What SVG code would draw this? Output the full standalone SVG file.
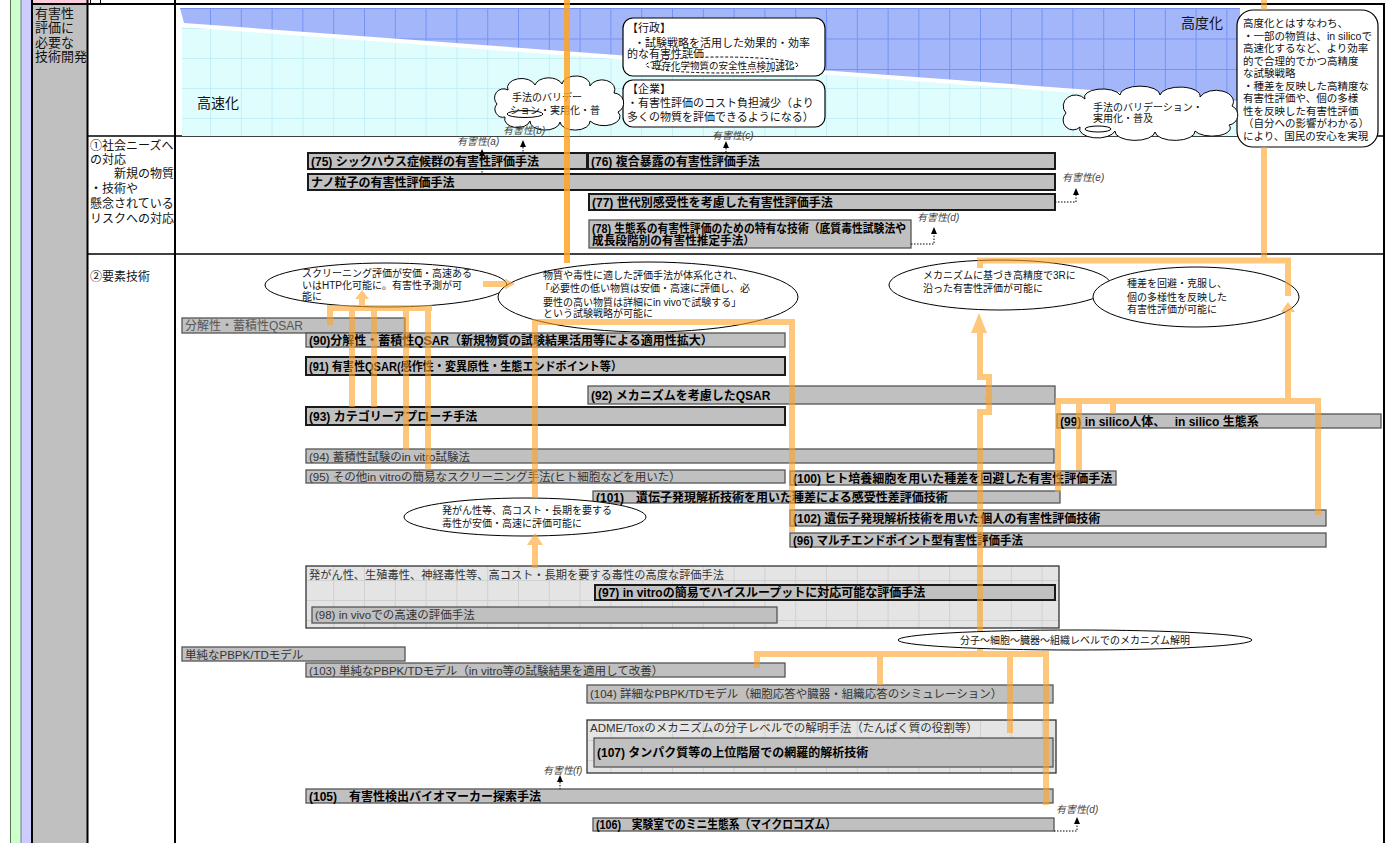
<svg xmlns="http://www.w3.org/2000/svg" width="1399" height="843" viewBox="0 0 1399 843">
<defs>
<style>
text{font-family:"Liberation Sans","Noto Sans CJK JP",sans-serif;}
.b{font-size:12px;font-weight:bold;fill:#000}
.n{font-size:11.5px;fill:#333}
.s{font-size:10px;fill:#111}
.m{font-size:11px;fill:#111}
.h{font-size:10px;font-style:italic;fill:#444}
.bx{fill:#c0c0c0;stroke:#1a1a1a;stroke-width:2}
.bl{fill:#c0c0c0;stroke:#555;stroke-width:1.3}
.gp{fill:url(#pg);stroke:#333;stroke-width:1.3}
.el{fill:#fff;stroke:#000;stroke-width:1}
.o{fill:none;stroke:#ffa326;stroke-width:6}
.oh{fill:#ffa326}
.dt{fill:none;stroke:#000;stroke-width:1;stroke-dasharray:1.5 1.5}
.ah{fill:#000}
</style>
<pattern id="pb" x="179.2" y="8" width="30.8" height="30.5" patternUnits="userSpaceOnUse"><rect width="30.8" height="30.5" fill="#a4b6fa"/><path d="M0.5,0 V30.5 M0,0.5 H30.8" stroke="#7393f4" stroke-width="1"/></pattern>
<pattern id="pc" x="179.2" y="-2" width="30.8" height="30" patternUnits="userSpaceOnUse"><rect width="30.8" height="30" fill="#e0fdfe"/><path d="M0.5,0 V30 M0,0.5 H30.8" stroke="#c4eff6" stroke-width="1"/></pattern>
<pattern id="pg" x="179.2" y="0" width="30.8" height="20" patternUnits="userSpaceOnUse"><rect width="30.8" height="20" fill="#e4e4e4"/><path d="M0.5,0 V20 M0,0.5 H30.8" stroke="#d0d0d0" stroke-width="1"/></pattern>
</defs>
<rect width="1399" height="843" fill="#fff"/>

<g id="frame">
<rect x="10" y="0" width="11" height="843" fill="#ccffcc"/>
<rect x="21" y="0" width="11" height="843" fill="#ccccff"/>
<rect x="33" y="0" width="54" height="4" fill="#ffccdd"/>
<rect x="33" y="5" width="54" height="838" fill="#c0c0c0"/>
<line x1="10.5" y1="0" x2="10.5" y2="843" stroke="#557755" stroke-width="1"/>
<line x1="21" y1="0" x2="21" y2="843" stroke="#777799" stroke-width="1"/>
<line x1="32" y1="0" x2="32" y2="843" stroke="#000" stroke-width="2"/>
<line x1="87.5" y1="0" x2="87.5" y2="843" stroke="#000" stroke-width="2"/>
<line x1="175" y1="0" x2="175" y2="843" stroke="#000" stroke-width="2"/>
<line x1="1384" y1="4" x2="1384" y2="843" stroke="#000" stroke-width="2"/>
<line x1="90.5" y1="0" x2="90.5" y2="4" stroke="#000" stroke-width="1"/>
<line x1="100.5" y1="0" x2="100.5" y2="4" stroke="#000" stroke-width="1"/>
<line x1="31" y1="4" x2="1385" y2="4" stroke="#000" stroke-width="2"/>
<line x1="88" y1="136" x2="1384" y2="136" stroke="#000" stroke-width="1.3"/>
<line x1="88" y1="254" x2="1384" y2="254" stroke="#000" stroke-width="1.3"/>
<text x="35" y="18" font-size="13" fill="#111">有害性</text>
<text x="35" y="32" font-size="13" fill="#111">評価に</text>
<text x="35" y="46.5" font-size="13" fill="#111">必要な</text>
<text x="35" y="61" font-size="13" fill="#111">技術開発</text>
<text x="90" y="150" font-size="12" fill="#111">①社会ニーズへ</text>
<text x="90" y="163.5" font-size="12" fill="#111">の対応</text>
<text x="90" y="178" font-size="12" fill="#111">　　新規の物質</text>
<text x="90" y="193" font-size="12" fill="#111">・技術や</text>
<text x="90" y="207.5" font-size="12" fill="#111">懸念されている</text>
<text x="90" y="222.5" font-size="12" fill="#111">リスクへの対応</text>
<text x="90" y="281" font-size="12" fill="#111">②要素技術</text>
</g>

<g id="band">
<polygon points="180,8 1240,8 1240,101 184,23" fill="url(#pb)"/>
<polygon points="182,27 1240,105 1240,136 182,136" fill="url(#pc)"/>
<text x="197" y="108" font-size="14" fill="#111">高速化</text>
<text x="1181" y="28" font-size="14" fill="#111">高度化</text>
</g>

<g id="gyosei">
<rect x="623" y="18" width="202" height="58" rx="10" fill="#fff" stroke="#000" stroke-width="1.2"/>
<text class="m" x="627" y="32">【行政】</text>
<text class="m" x="634" y="46.5">・試験戦略を活用した効果的・効率</text>
<text class="m" x="627" y="58">的な有害性評価</text>
<ellipse cx="722" cy="65" rx="76" ry="8" fill="#fff" stroke="#000" stroke-width="1" stroke-dasharray="3 2"/>
<text x="652" y="69" font-size="9.5" fill="#111">既存化学物質の安全性点検加速化</text>
</g>
<g id="kigyo">
<rect x="623" y="80" width="202" height="47" rx="10" fill="#fff" stroke="#000" stroke-width="1.2"/>
<text class="m" x="627" y="93">【企業】</text>
<text class="m" x="627" y="107">・有害性評価のコスト負担減少（より</text>
<text class="m" x="627" y="121">多くの物質を評価できるようになる）</text>
</g>
<g id="koudoka">
<rect x="1237" y="10" width="141" height="137" rx="16" fill="#fff" stroke="#000" stroke-width="1.2"/>
<text x="1243" y="27" font-size="10.5" fill="#111">高度化とはすなわち、</text>
<text x="1243" y="39.5" font-size="10.5" fill="#111">・一部の物質は、in silicoで</text>
<text x="1243" y="52" font-size="10.5" fill="#111">高速化するなど、より効率</text>
<text x="1243" y="64.5" font-size="10.5" fill="#111">的で合理的でかつ高精度</text>
<text x="1243" y="77" font-size="10.5" fill="#111">な試験戦略</text>
<text x="1243" y="89.5" font-size="10.5" fill="#111">・種差を反映した高精度な</text>
<text x="1243" y="102" font-size="10.5" fill="#111">有害性評価や、個の多様</text>
<text x="1243" y="114.5" font-size="10.5" fill="#111">性を反映した有害性評価</text>
<text x="1243" y="127" font-size="10.5" fill="#111">（自分への影響がわかる）</text>
<text x="1243" y="139.5" font-size="10.5" fill="#111">により、国民の安心を実現</text>
</g>
<g id="cloud1">
<path class="el" d="M497,104 A9,9 0 0 1 508,90 A14,9 0 0 1 535,85 A14,9 0 0 1 562,84 A14,9 0 0 1 590,86 A12,9 0 0 1 614,93 A10,10 0 0 1 618,112 A14,8 0 0 1 590,121 A14,8 0 0 1 560,122 A14,8 0 0 1 530,121 A12,8 0 0 1 505,117 A8,8 0 0 1 497,104 Z"/>
<ellipse class="el" cx="525" cy="114" rx="18" ry="3.5"/>
<text class="s" x="512" y="101">手法のバリデー</text>
<text class="s" x="510" y="114">ション・実用化・普</text>
</g>
<g id="cloud2">
<path class="el" d="M1066,113 A10,9 0 0 1 1085,99 A18,8 0 0 1 1120,95 A18,8 0 0 1 1160,95 A18,8 0 0 1 1200,97 A14,9 0 0 1 1232,106 A10,10 0 0 1 1229,125 A18,8 0 0 1 1195,131 A18,8 0 0 1 1155,132 A18,8 0 0 1 1115,131 A16,8 0 0 1 1080,127 A8,8 0 0 1 1066,113 Z"/>
<ellipse class="el" cx="1098" cy="129" rx="13" ry="3"/>
<text class="s" x="1093" y="111">手法のバリデーション・</text>
<text class="s" x="1093" y="122">実用化・普及</text>
</g>

<g id="n75"><rect class="bx" x="308" y="153" width="279" height="16"/><text class="b" x="311" y="165.5">(75) シックハウス症候群の有害性評価手法</text></g>
<g id="n76"><rect class="bx" x="588" y="153" width="467" height="16"/><text class="b" x="591" y="165.5">(76) 複合暴露の有害性評価手法</text></g>
<g id="nano"><rect class="bx" x="308" y="174" width="747" height="16"/><text class="b" x="311" y="186.5">ナノ粒子の有害性評価手法</text></g>
<g id="n77"><rect class="bx" x="589" y="194" width="466" height="16"/><text class="b" x="592" y="206.5">(77) 世代別感受性を考慮した有害性評価手法</text></g>
<g id="n78"><rect class="bl" x="589" y="220" width="322" height="28"/><text class="b" x="592" y="232.5" textLength="314" lengthAdjust="spacingAndGlyphs">(78) 生態系の有害性評価のための特有な技術（底質毒性試験法や</text><text class="b" x="592" y="245" textLength="163" lengthAdjust="spacingAndGlyphs">成長段階別の有害性推定手法）</text></g>

<g id="e1"><ellipse class="el" cx="386" cy="285" rx="121" ry="22"/><text class="s" x="302" y="277">スクリーニング評価が安価・高速ある</text><text class="s" x="302" y="288.5">いはHTP化可能に。有害性予測が可</text><text class="s" x="302" y="300">能に</text></g>
<g id="e2"><ellipse class="el" cx="648" cy="297" rx="150" ry="35"/><text class="s" x="543" y="279">物質や毒性に適した評価手法が体系化され、</text><text class="s" x="540" y="292">「必要性の低い物質は安価・高速に評価し、必</text><text class="s" x="543" y="305.5">要性の高い物質は詳細にin vivoで試験する」</text><text class="s" x="543" y="317">という試験戦略が可能に</text></g>
<g id="e3"><ellipse class="el" cx="1000" cy="285" rx="111" ry="25"/><text class="s" x="923" y="279">メカニズムに基づき高精度で3Rに</text><text class="s" x="923" y="292">沿った有害性評価が可能に</text></g>
<g id="e4"><ellipse class="el" cx="1196" cy="297" rx="103" ry="30"/><text class="s" x="1127" y="287">種差を回避・克服し、</text><text class="s" x="1127" y="300.5">個の多様性を反映した</text><text class="s" x="1127" y="313">有害性評価が可能に</text></g>

<g id="qsar"><rect class="bl" x="182" y="318" width="223" height="15"/><text x="185" y="330" font-size="12" fill="#555">分解性・蓄積性QSAR</text></g>
<g id="n90"><rect class="bl" x="306" y="333" width="479" height="14"/><text class="b" x="309" y="344.5">(90)分解性・蓄積性QSAR（新規物質の試験結果活用等による適用性拡大）</text></g>
<g id="n91"><rect class="bx" x="306" y="357" width="479" height="18"/><text class="b" x="309" y="370.5" textLength="313" lengthAdjust="spacingAndGlyphs">(91) 有害性QSAR(感作性・変異原性・生態エンドポイント等）</text></g>
<g id="n92"><rect class="bl" x="588" y="386" width="467" height="18"/><text class="b" x="591" y="399.5">(92) メカニズムを考慮したQSAR</text></g>
<g id="n93"><rect class="bx" x="306" y="407" width="479" height="18"/><text class="b" x="309" y="420.5">(93) カテゴリーアプローチ手法</text></g>
<g id="n99"><rect class="bl" x="1057" y="414" width="324" height="14"/><text class="b" x="1060" y="425.5">(99) in silico人体、　 in silico 生態系</text></g>
<g id="n94"><rect class="bl" x="306" y="449" width="748" height="14"/><text class="n" x="309" y="460.5">(94) 蓄積性試験のin vitro試験法</text></g>
<g id="n95"><rect class="bl" x="306" y="470" width="479" height="13"/><text class="n" x="309" y="481">(95) その他in vitroの簡易なスクリーニング手法(ヒト細胞などを用いた）</text></g>
<g id="n100"><rect class="bl" x="790" y="471" width="326" height="14"/><text class="b" x="793" y="482.5">(100) ヒト培養細胞を用いた種差を回避した有害性評価手法</text></g>
<g id="n101"><rect class="bl" x="593" y="491" width="467" height="12"/><text class="b" x="596" y="502">(101)　遺伝子発現解析技術を用いた種差による感受性差評価技術</text></g>
<g id="n102"><rect class="bl" x="790" y="510" width="536" height="16"/><text class="b" x="793" y="522.5">(102) 遺伝子発現解析技術を用いた個人の有害性評価技術</text></g>
<g id="n96"><rect class="bl" x="790" y="533" width="536" height="14"/><text class="b" x="793" y="544.5" textLength="230" lengthAdjust="spacingAndGlyphs">(96) マルチエンドポイント型有害性評価手法</text></g>

<g id="e5"><ellipse class="el" cx="525" cy="517" rx="121" ry="19"/><text class="s" x="442" y="514">発がん性等、高コスト・長期を要する</text><text class="s" x="442" y="527">毒性が安価・高速に評価可能に</text></g>

<g id="grp1"><rect class="gp" x="306" y="566" width="753" height="62"/><text class="n" x="309" y="578.5" textLength="415" lengthAdjust="spacingAndGlyphs">発がん性、生殖毒性、神経毒性等、高コスト・長期を要する毒性の高度な評価手法</text></g>
<g id="n97"><rect class="bx" x="595" y="585" width="460" height="15"/><text class="b" x="598" y="597">(97) in vitroの簡易でハイスループットに対応可能な評価手法</text></g>
<g id="n98"><rect class="bl" x="312" y="607" width="465" height="16"/><text class="n" x="315" y="619">(98) in vivoでの高速の評価手法</text></g>

<g id="e6"><ellipse class="el" cx="1075" cy="640" rx="177" ry="10"/><text class="s" x="1075" y="644" text-anchor="middle">分子～細胞～臓器～組織レベルでのメカニズム解明</text></g>

<g id="pbpk"><rect class="bl" x="182" y="647" width="223" height="14"/><text class="n" x="185" y="658.5" fill="#222">単純なPBPK/TDモデル</text></g>
<g id="n103"><rect class="bl" x="306" y="663" width="479" height="14"/><text class="n" x="309" y="674.5">(103) 単純なPBPK/TDモデル（in vitro等の試験結果を適用して改善）</text></g>
<g id="n104"><rect class="bl" x="587" y="685" width="466" height="18"/><text class="n" x="590" y="698">(104) 詳細なPBPK/TDモデル（細胞応答や臓器・組織応答のシミュレーション）</text></g>
<g id="grp2"><rect class="gp" x="587" y="720" width="469" height="53"/><text class="n" x="590" y="732">ADME/Toxのメカニズムの分子レベルでの解明手法（たんぱく質の役割等）</text></g>
<g id="n107"><rect class="bl" x="594" y="738" width="459" height="29"/><text class="b" x="597" y="756.5">(107) タンパク質等の上位階層での網羅的解析技術</text></g>
<g id="n105"><rect class="bl" x="306" y="789" width="747" height="14"/><text class="b" x="309" y="800.5">(105)　有害性検出バイオマーカー探索手法</text></g>
<g id="n106"><rect class="bl" x="593" y="818" width="461" height="13"/><text class="b" x="596" y="829" textLength="240" lengthAdjust="spacingAndGlyphs">(106)　実験室でのミニ生態系（マイクロコズム）</text></g>

<g id="labels">
<text class="h" x="457" y="145">有害性(a)</text>
<text class="h" x="503" y="134">有害性(b)</text>
<text class="h" x="712" y="139">有害性(c)</text>
<text class="h" x="1062" y="181">有害性(e)</text>
<text class="h" x="917" y="221">有害性(d)</text>
<text class="h" x="543" y="774">有害性(f)</text>
<text class="h" x="1056" y="813">有害性(d)</text>
</g>

<g id="connectors">
<g opacity="0.85">
<path class="o" d="M567,0 V263" stroke-width="8"/>
</g>
<g opacity="0.6">
<path class="o" d="M1264,0 V10 M1264,147 V260"/>
<path class="o" d="M980,268 V260.5 H1291 M1288,260 V296"/>
<path class="o" d="M1288,401 V311 M1055,401 H1321 M1058,401 V492 M1079,401 V470 M1113,401 V414 M1318,401 V515"/>
<polygon class="oh" points="1281,312 1295,312 1288,302"/>
<path class="o" d="M980,332 V377 H989 V412 H980 V631 M980,649 V654"/>
<polygon class="oh" points="971,333 987,333 979,313"/>
<polygon class="oh" points="984,399 993,399 988.5,392"/>
<path class="o" d="M757,668 V654 H1049 M880,654 V685 M1010,654 V733 M1046,654 V805"/>
<path class="o" d="M330,325 V308 H432 M352,308 V407 M374,308 V407 M406,308 V450 M428,308 V470 M362,308 V298" stroke-width="5.5"/>
<polygon class="oh" points="355,299 369,299 362,290"/>
<path class="o" d="M483,284 H506" stroke-width="5"/>
<polygon class="oh" points="505,278.5 505,289.5 515,284"/>
<path class="o" d="M535,498 V322 H792 V532"/>
<path class="o" d="M535,568 V544"/>
<polygon class="oh" points="527,545 543,545 535,533"/>
</g>
<g id="dotted">
<path class="dt" d="M482,156 V174"/><polygon class="ah" points="479,156 485,156 482,149"/>
<path class="dt" d="M523,147 V153"/><polygon class="ah" points="520,147 526,147 523,140"/>
<path class="dt" d="M726,148 V153"/><polygon class="ah" points="723,148 729,148 726,141"/>
<path class="dt" d="M1055,202 H1076 V195"/><polygon class="ah" points="1073,195 1079,195 1076,188"/>
<path class="dt" d="M911,244 H934 V234"/><polygon class="ah" points="931,234 937,234 934,227"/>
<path class="dt" d="M560,782 V789"/><polygon class="ah" points="557,782 563,782 560,775"/>
<path class="dt" d="M1054,831 H1077 V824"/><polygon class="ah" points="1074,824 1080,824 1077,817"/>
</g>
</g>
</svg>
